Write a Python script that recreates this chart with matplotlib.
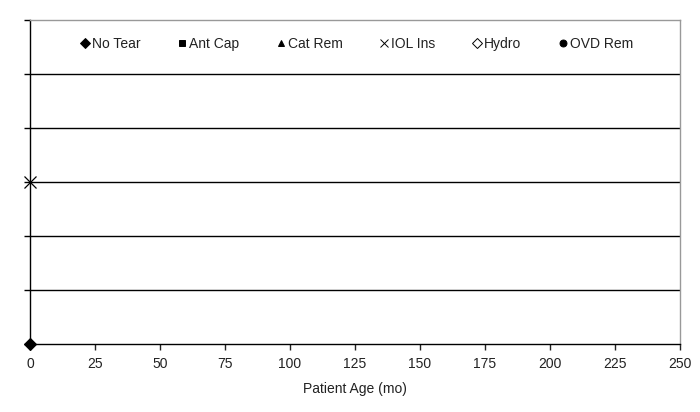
import matplotlib
matplotlib.use("Agg")
import matplotlib.pyplot as plt

plt.rcParams['font.family'] = ['Liberation Sans', 'DejaVu Sans']

series_names = ["No Tear", "Ant Cap", "Cat Rem", "IOL Ins", "Hydro", "OVD Rem"]
series_x = [[0], [], [], [0], [], []]
series_y = [[0], [], [], [3], [], []]
markers = ["D", "s", "^", "x", "D", "o"]
fills = ["black", "black", "black", "black", "white", "black"]
sizes = [6, 6, 6, 9, 6, 6]

x_ticks = [0, 25, 50, 75, 100, 125, 150, 175, 200, 225, 250]
y_ticks = [0, 1, 2, 3, 4, 5, 6]
x_label = "Patient Age (mo)"

FS = 10

fig = plt.figure(figsize=(7, 4.12), dpi=100)
ax = fig.add_axes([30/700, 1-344/412, 650/700, 324/412])

for yv in y_ticks[1:-1]:
    ax.axhline(yv, color="black", lw=1.0, zorder=1)

for name, xs, ys, m, fc, s in zip(series_names, series_x, series_y, markers, fills, sizes):
    ax.plot(xs, ys, linestyle="none", marker=m, markersize=s,
            markerfacecolor=fc, markeredgecolor="black", markeredgewidth=0.8 if m != "x" else 0.9,
            color="black", label=name, clip_on=False, zorder=5)

ax.set_xlim(0, 250)
ax.set_ylim(0, 6)
ax.set_xticks(x_ticks)
ax.set_xticklabels([str(v) for v in x_ticks], fontsize=FS)
ax.set_yticks(y_ticks)
ax.set_yticklabels([])
ax.tick_params(axis="both", direction="out", length=4, width=1, color="black")
ax.tick_params(axis="x", pad=5, colors="#222222")
ax.set_xlabel(x_label, fontsize=FS, labelpad=8, color="#222222")

for side in ["left", "bottom"]:
    ax.spines[side].set_color("black")
    ax.spines[side].set_linewidth(1.0)
for side in ["top", "right"]:
    ax.spines[side].set_color("#999999")
    ax.spines[side].set_linewidth(1.0)

leg_handles = []
for m, fc in zip(markers, fills):
    lh, = ax.plot([], [], linestyle="none", marker=m, markersize=5 if m != "x" else 6,
                  markerfacecolor=fc, markeredgecolor="black", markeredgewidth=0.7)
    leg_handles.append(lh)
leg = ax.legend(leg_handles, series_names, loc="upper center", bbox_to_anchor=(0.503, 0.987),
                ncol=6, frameon=False, fontsize=FS, handlelength=0.6, handletextpad=0.2,
                columnspacing=2.7)
for t in leg.get_texts():
    t.set_color("#222222")

fig.savefig("out.png", dpi=100)
